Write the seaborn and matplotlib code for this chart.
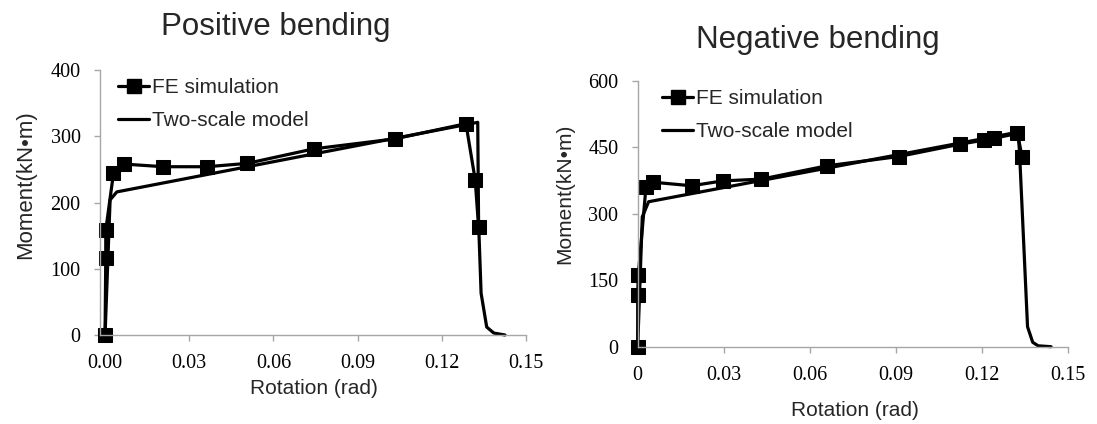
import matplotlib
matplotlib.use("Agg")
import matplotlib.pyplot as plt
from matplotlib.lines import Line2D
import seaborn as sns
import pandas as pd

# ---- data: positive bending ----
pos_fe_rot = [0.0, 0.00025, 0.00025, 0.003, 0.0068, 0.0208, 0.0363, 0.0506, 0.0744, 0.1032, 0.1286, 0.1319, 0.1331]
pos_fe_mom = [0, 116, 158, 244, 258, 254, 254, 259, 281, 296, 319, 234, 163]
pos_ts_rot = [0.0, 0.0018, 0.0042, 0.1328, 0.1331, 0.1340, 0.1360, 0.1385, 0.1425]
pos_ts_mom = [0, 204, 216, 321, 170, 63, 12, 3, 0]

# ---- data: negative bending ----
neg_fe_rot = [0.0, 0.0, 0.0002, 0.0029, 0.0054, 0.0188, 0.0296, 0.0431, 0.0659, 0.0910, 0.1124, 0.1207, 0.1240, 0.1323, 0.1339]
neg_fe_mom = [0, 117, 162, 361, 371, 363, 374, 378, 408, 429, 457, 466, 470, 481, 428]
neg_ts_rot = [0.0, 0.0016, 0.0038, 0.1325, 0.1330, 0.1358, 0.1376, 0.1395, 0.1440]
neg_ts_mom = [0, 293, 327, 484, 440, 45, 10, 2, 0]

titles = ["Positive bending", "Negative bending"]
xlabel = "Rotation (rad)"
ylabel = "Moment(kN\u2022m)"
legend_labels = ["FE simulation", "Two-scale model"]
pos_xticks = [0.0, 0.03, 0.06, 0.09, 0.12, 0.15]
pos_xticklabels = ["0.00", "0.03", "0.06", "0.09", "0.12", "0.15"]
neg_xticks = [0.0, 0.03, 0.06, 0.09, 0.12, 0.15]
neg_xticklabels = ["0", "0.03", "0.06", "0.09", "0.12", "0.15"]
pos_yticks = [0, 100, 200, 300, 400]
neg_yticks = [0, 150, 300, 450, 600]

sns.set_theme(style="white")
plt.rcParams["font.family"] = ["Liberation Sans", "DejaVu Sans"]

W, H = 1097, 424
fig = plt.figure(figsize=(W / 100, H / 100), dpi=100)

def px_axes(x0, x1, y_top, y_bot):
    return fig.add_axes([x0 / W, 1 - y_bot / H, (x1 - x0) / W, (y_bot - y_top) / H])

ax1 = px_axes(100, 526, 70, 335)
ax2 = px_axes(637.7, 1068.3, 80.7, 346.7)

spine_c = "#a6a6a6"
tick_font = dict(family=["Liberation Serif", "DejaVu Serif"], size=14.5)

def draw(ax, fe_x, fe_y, ts_x, ts_y, xlim, ylim, xticks, xtl, yticks):
    fe = pd.DataFrame({"x": fe_x, "y": fe_y})
    ts = pd.DataFrame({"x": ts_x, "y": ts_y})
    sns.lineplot(data=ts, x="x", y="y", ax=ax, sort=False, estimator=None,
                 color="black", linewidth=2.3)
    sns.lineplot(data=fe, x="x", y="y", ax=ax, sort=False, estimator=None,
                 color="black", linewidth=2.3, marker="s", markersize=9.5,
                 markeredgecolor="black", markerfacecolor="black")
    ax.set_xlim(*xlim)
    ax.set_ylim(*ylim)
    ax.set_xticks(xticks)
    ax.set_xticklabels(xtl, fontdict=tick_font)
    ax.set_yticks(yticks)
    ax.set_yticklabels([str(v) for v in yticks], fontdict=tick_font)
    for s in ["top", "right"]:
        ax.spines[s].set_visible(False)
    for s in ["left", "bottom"]:
        ax.spines[s].set_color(spine_c)
        ax.spines[s].set_linewidth(1.0)
    ax.tick_params(axis="both", which="both", direction="out", length=4,
                   width=1.0, color=spine_c, labelcolor="black",
                   bottom=True, left=True)
    ax.tick_params(axis="x", pad=10)
    ax.tick_params(axis="y", pad=10)
    ax.set_xlabel("")
    ax.set_ylabel("")

draw(ax1, pos_fe_rot, pos_fe_mom, pos_ts_rot, pos_ts_mom, (-0.0018, 0.15), (0, 400),
     pos_xticks, pos_xticklabels, pos_yticks)
draw(ax2, neg_fe_rot, neg_fe_mom, neg_ts_rot, neg_ts_mom, (0, 0.15), (0, 600),
     neg_xticks, neg_xticklabels, neg_yticks)
for ax in (ax1, ax2):
    for ln in ax.lines:
        ln.set_clip_on(False)

# titles and labels in figure pixel coords
def ftext(x, y, s, **kw):
    fig.text(x / W, 1 - y / H, s, **kw)

ftext(276, 27, titles[0], ha="center", va="center", fontsize=22.5)
ftext(818, 40, titles[1], ha="center", va="center", fontsize=22.5)
ftext(26, 185, ylabel, ha="center", va="center", rotation=90, fontsize=16)
ftext(565, 194, ylabel, ha="center", va="center", rotation=90, fontsize=15)
ftext(314, 388, xlabel, ha="center", va="center", fontsize=15)
ftext(855, 410, xlabel, ha="center", va="center", fontsize=15)

handles = [Line2D([], [], color="black", lw=2.3, marker="s", markersize=9.5),
           Line2D([], [], color="black", lw=2.3)]

def legend(x, y):
    fig.legend(handles, legend_labels, loc="upper left",
               bbox_to_anchor=(x / W, 1 - y / H), frameon=False,
               fontsize=15, handlelength=1.5, handletextpad=0.15,
               labelspacing=0.68, borderpad=0, borderaxespad=0)

legend(118, 78)
legend(662, 89)

fig.savefig("out.png", dpi=100)
